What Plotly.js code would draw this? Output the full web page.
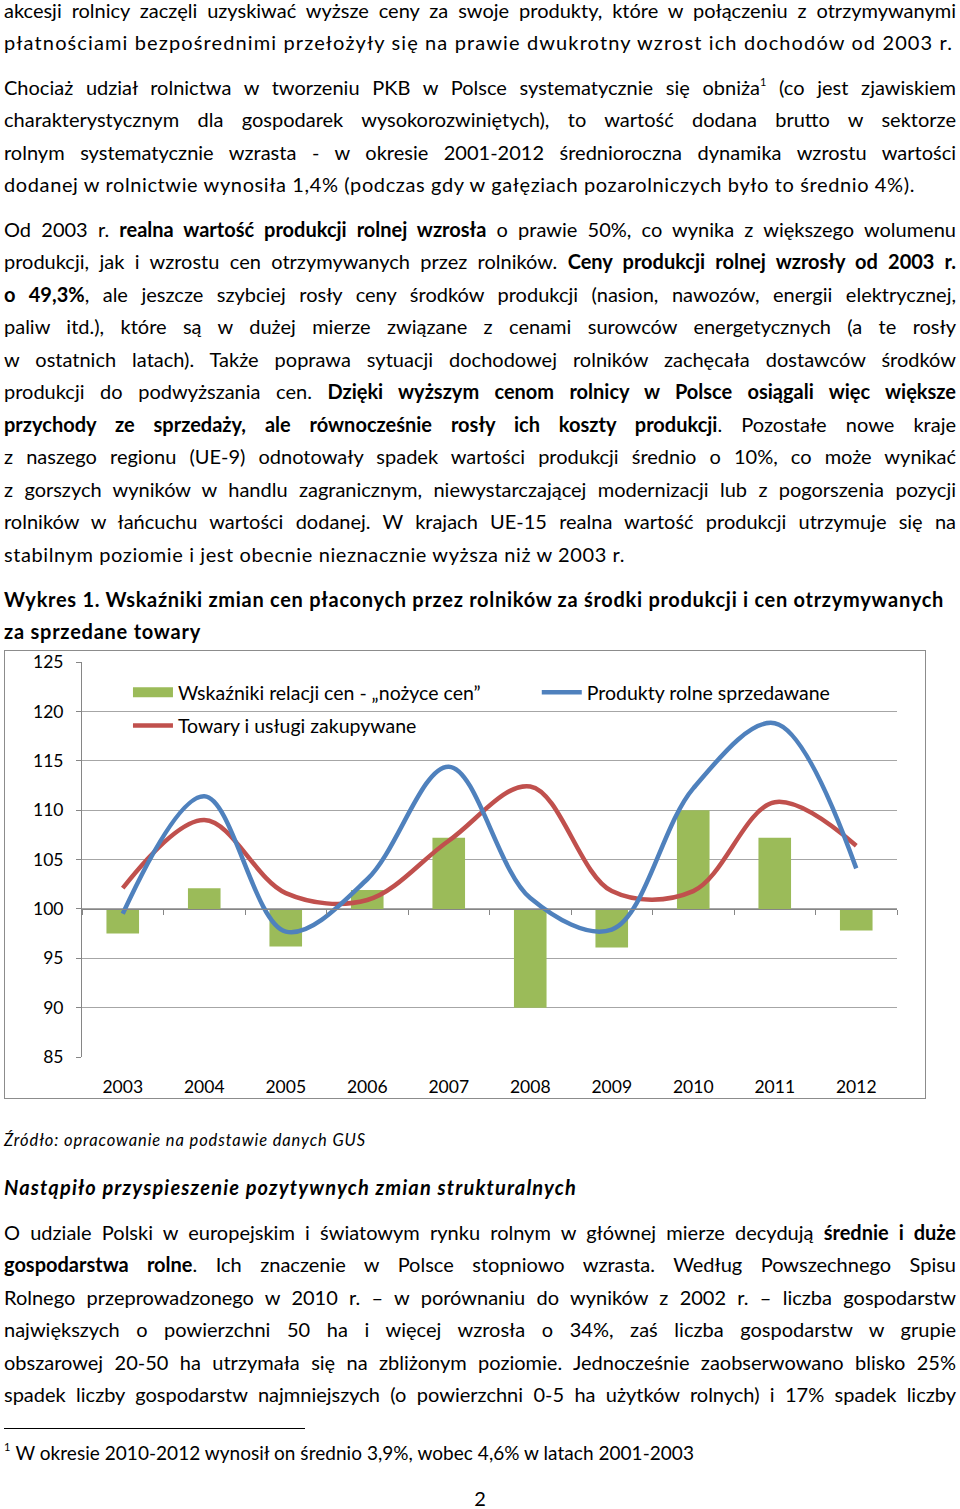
<!DOCTYPE html>
<html><head><meta charset="utf-8">
<script src="https://cdn.plot.ly/plotly-3.0.1.min.js"></script>
<style>
html,body{margin:0;padding:0;background:#fff;}
body{width:960px;height:1509px;position:relative;overflow:hidden;font-family:Lato,sans-serif;color:#000;}
.ln{position:absolute;left:4px;width:952px;height:32px;line-height:32px;font-size:20px;white-space:nowrap;text-align:left;}
.j{text-align:justify;text-align-last:justify;}
.t{font-weight:bold;}
.src{font-style:italic;font-size:16.5px;}
.hd{font-weight:bold;font-style:italic;}
sup{font-size:11px;line-height:0;vertical-align:9px;}
#chartbox{position:absolute;left:4px;top:650px;width:920px;height:447px;border:1px solid #8c8c8c;}
#rule{position:absolute;left:4px;top:1428px;width:301px;height:0;border-top:1px solid #000;}
.fn{position:absolute;left:4px;top:1437px;height:32px;line-height:32px;font-size:19px;white-space:nowrap;}
.fnsup{font-size:11px;vertical-align:9px;line-height:0;margin-right:5px;}
.pg{position:absolute;left:0;width:960px;top:1482px;height:32px;line-height:32px;font-size:20px;text-align:center;}
</style></head>
<body>
<div class="ln j" style="top:-6px">akcesji rolnicy zaczęli uzyskiwać wyższe ceny za swoje produkty, które w połączeniu z otrzymywanymi</div>
<div class="ln" data-w="949" style="top:26px">płatnościami bezpośrednimi przełożyły się na prawie dwukrotny wzrost ich dochodów od 2003 r.</div>

<div class="ln j" style="top:71px">Chociaż udział rolnictwa w tworzeniu PKB w Polsce systematycznie się obniża<sup>1</sup> (co jest zjawiskiem</div>
<div class="ln j" style="top:103px">charakterystycznym dla gospodarek wysokorozwiniętych), to wartość dodana brutto w sektorze</div>
<div class="ln j" style="top:136px">rolnym systematycznie wzrasta - w okresie 2001-2012 średnioroczna dynamika wzrostu wartości</div>
<div class="ln" data-w="911" style="top:168px">dodanej w rolnictwie wynosiła 1,4% (podczas gdy w gałęziach pozarolniczych było to średnio 4%).</div>

<div class="ln j" style="top:213px">Od 2003 r. <b>realna wartość produkcji rolnej wzrosła</b> o prawie 50%, co wynika z większego wolumenu</div>
<div class="ln j" style="top:245px">produkcji, jak i wzrostu cen otrzymywanych przez rolników. <b>Ceny produkcji rolnej wzrosły od 2003 r.</b></div>
<div class="ln j" style="top:278px"><b>o 49,3%</b>, ale jeszcze szybciej rosły ceny środków produkcji (nasion, nawozów, energii elektrycznej,</div>
<div class="ln j" style="top:310px">paliw itd.), które są w dużej mierze związane z cenami surowców energetycznych (a te rosły</div>
<div class="ln j" style="top:343px">w ostatnich latach). Także poprawa sytuacji dochodowej rolników zachęcała dostawców środków</div>
<div class="ln j" style="top:375px">produkcji do podwyższania cen. <b>Dzięki wyższym cenom rolnicy w Polsce osiągali więc większe</b></div>
<div class="ln j" style="top:408px"><b>przychody ze sprzedaży, ale równocześnie rosły ich koszty produkcji</b>. Pozostałe nowe kraje</div>
<div class="ln j" style="top:440px">z naszego regionu (UE-9) odnotowały spadek wartości produkcji średnio o 10%, co może wynikać</div>
<div class="ln j" style="top:473px">z gorszych wyników w handlu zagranicznym, niewystarczającej modernizacji lub z pogorszenia pozycji</div>
<div class="ln j" style="top:505px">rolników w łańcuchu wartości dodanej. W krajach UE-15 realna wartość produkcji utrzymuje się na</div>
<div class="ln" data-w="621" style="top:538px">stabilnym poziomie i jest obecnie nieznacznie wyższa niż w 2003 r.</div>

<div class="ln t" data-w="940" style="top:583px">Wykres 1. Wskaźniki zmian cen płaconych przez rolników za środki produkcji i cen otrzymywanych</div>
<div class="ln t" data-w="197" style="top:615px">za sprzedane towary</div>

<div id="chartbox"><div id="chart"></div></div>

<div class="ln src" data-w="362" style="top:1124px">Źródło: opracowanie na podstawie danych GUS</div>
<div class="ln hd" data-w="573" style="top:1171px">Nastąpiło przyspieszenie pozytywnych zmian strukturalnych</div>

<div class="ln j" style="top:1216px">O udziale Polski w europejskim i światowym rynku rolnym w głównej mierze decydują <b>średnie i duże</b></div>
<div class="ln j" style="top:1248px"><b>gospodarstwa rolne</b>. Ich znaczenie w Polsce stopniowo wzrasta. Według Powszechnego Spisu</div>
<div class="ln j" style="top:1281px">Rolnego przeprowadzonego w 2010 r. – w porównaniu do wyników z 2002 r. – liczba gospodarstw</div>
<div class="ln j" style="top:1313px">największych o powierzchni 50 ha i więcej wzrosła o 34%, zaś liczba gospodarstw w grupie</div>
<div class="ln j" style="top:1346px">obszarowej 20-50 ha utrzymała się na zbliżonym poziomie. Jednocześnie zaobserwowano blisko 25%</div>
<div class="ln j" style="top:1378px">spadek liczby gospodarstw najmniejszych (o powierzchni 0-5 ha użytków rolnych) i 17% spadek liczby</div>

<div id="rule"></div>
<div class="fn"><span class="fnsup">1</span><span id="fntext">W okresie 2010-2012 wynosił on średnio 3,9%, wobec 4,6% w latach 2001-2003</span></div>
<div class="pg">2</div>

<script>
// ---- chart data ----
const years = ['2003','2004','2005','2006','2007','2008','2009','2010','2011','2012'];
const nozyceCen = [97.5, 102.1, 96.2, 101.9, 107.2, 90.0, 96.1, 110.0, 107.2, 97.8];
const produktyRolne = [99.5, 111.4, 97.7, 103.0, 114.4, 101.1, 97.9, 112.2, 118.8, 104.1];
const towaryUslugi = [102.1, 109.0, 101.6, 100.9, 106.9, 112.4, 101.8, 101.8, 110.8, 106.4];
const seriesNames = ['Wskaźniki relacji cen - „nożyce cen”', 'Produkty rolne sprzedawane', 'Towary i usługi zakupywane'];
const yTicks = [85, 90, 95, 100, 105, 110, 115, 120, 125];
const baseLevel = 100;

// ---- fit text lines ----
function fitLines(){
  document.querySelectorAll('.ln').forEach(el => {
    const isJ = el.classList.contains('j');
    const target = el.dataset.w ? +el.dataset.w : 952;
    el.style.textAlign = 'left'; el.style.textAlignLast = 'left';
    const r = document.createRange(); r.selectNodeContents(el);
    const w = r.getBoundingClientRect().width;
    const n = el.textContent.length;
    el.style.textAlign = ''; el.style.textAlignLast = '';
    if (isJ) { if (w > target) el.style.letterSpacing = ((target - w) / n) + 'px'; }
    else if (n > 0) { el.style.letterSpacing = ((target - w) / n) + 'px'; }
  });
  const ft = document.getElementById('fntext');
  const r = document.createRange(); r.selectNodeContents(ft);
  const b = r.getBoundingClientRect();
  ft.style.letterSpacing = ((694 - b.right) / ft.textContent.length) + 'px';
}

const green = '#9BBB59', blue = '#4F81BD', red = '#C0504D';
const traces = [
  {type:'bar', x: years, y: nozyceCen.map(v => v - baseLevel), base: baseLevel,
   name: seriesNames[0], marker:{color: green}, hoverinfo:'skip', showlegend:false, legendgroup:'g1'},
  // legend swatch for the bar series (wide block, as in the original legend)
  {type:'scatter', mode:'lines', x: [years[0]], y: [null], name: seriesNames[0], legend:'legend',
   legendgroup:'g1', line:{color: green, width: 12}, hoverinfo:'skip'},
  {type:'scatter', mode:'lines', x: years, y: produktyRolne, name: seriesNames[1], xaxis:'x2', legend:'legend2',
   legendgroup:'g2', line:{color: blue, width:4.5, shape:'spline', smoothing:1}, hoverinfo:'skip'},
  {type:'scatter', mode:'lines', x: years, y: towaryUslugi, name: seriesNames[2], legend:'legend',
   legendgroup:'g3', line:{color: red, width:4.5, shape:'spline', smoothing:1}, hoverinfo:'skip'}
];

const axisGray = '#868686';
const legendBase = {orientation:'v', xanchor:'left', y:0.972, yanchor:'top', itemwidth:40,
  font:{size:19.5, color:'#000'}, bgcolor:'rgba(0,0,0,0)', traceorder:'grouped', tracegroupgap:5};
const layout = {
  width: 920, height: 447,
  margin: {l:77, r:28, t:11, b:41},
  paper_bgcolor:'#ffffff', plot_bgcolor:'#ffffff',
  font:{family:'Lato, sans-serif', size:17.5, color:'#000'},
  bargap: 0.6,
  showlegend: true,
  legend: Object.assign({}, legendBase, {x:0.0564}),
  legend2: Object.assign({}, legendBase, {x:0.558}),
  xaxis:{type:'category', showgrid:false, showline:false, zeroline:false,
         ticks:'outside', ticklen:14, tickcolor:'rgba(0,0,0,0)', tickfont:{size:17.5}},
  xaxis2:{type:'category', overlaying:'x', matches:'x', anchor:'free', position:(baseLevel-85)/40,
          showline:true, linecolor:axisGray, linewidth:1, ticks:'outside', ticklen:5, tickcolor:axisGray,
          tickson:'boundaries', showticklabels:false, showgrid:false, zeroline:false},
  yaxis:{range:[85,125], tickvals: yTicks, showline:true, linecolor:axisGray, ticks:'outside', ticklen:5,
         tickcolor:axisGray, gridcolor:'#a6a6a6', zeroline:false, ticklabelstandoff:9, tickfont:{size:17.5}}
};

Plotly.newPlot('chart', traces, layout, {staticPlot:true, displayModeBar:false});
if (document.fonts && document.fonts.ready) { document.fonts.ready.then(fitLines); } else { fitLines(); }
</script>
</body></html>
